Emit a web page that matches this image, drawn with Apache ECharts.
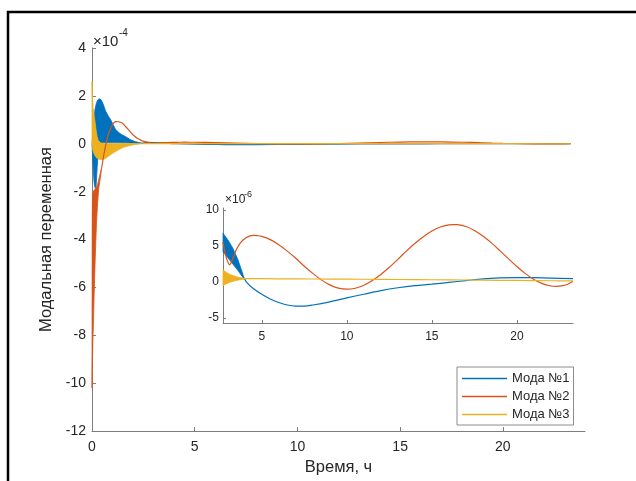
<!DOCTYPE html>
<html>
<head>
<meta charset="utf-8">
<script src="https://cdn.jsdelivr.net/npm/echarts@6/dist/echarts.min.js"></script>
<style>
  html, body { margin: 0; padding: 0; background: #fff; }
  #chart { width: 636px; height: 481px; }
</style>
</head>
<body>
<div id="chart"></div>
<script>
// Modal variables of the three modes over time (hours).
const seriesNames = ['Мода №1', 'Мода №2', 'Мода №3'];
const colors = ['#0072BD', '#D95319', '#EDB120'];

// Tick values: main axes in units of 1e-4, inset in units of 1e-6
const mainTicksX = [0, 5, 10, 15, 20];
const mainTicksY = [-12, -10, -8, -6, -4, -2, 0, 2, 4];
const insetTicksX = [5, 10, 15, 20];
const insetTicksY = [-5, 0, 5, 10];

// ---- Start-up transient (units of 1e-4): envelopes of the fast oscillation ----
const mode1BandT  = [0, 0.05, 0.1, 0.15, 0.2, 0.25, 0.3, 0.37, 0.45, 0.55, 0.66, 0.8, 0.9, 1.0, 1.14, 1.3, 1.45, 1.63, 1.85, 2.1, 2.4];
const mode1BandHi = [0, 0.5, 1.1, 1.45, 1.65, 1.78, 1.85, 1.88, 1.83, 1.65, 1.37, 1.15, 1.02, 0.85, 0.61, 0.47, 0.38, 0.3, 0.18, 0.09, 0.03];
const mode1BandLo = [0, -0.9, -1.6, -1.85, -1.75, -1.0, -0.4, 0, 0.03, 0.04, 0.05, 0.05, 0.05, 0.05, 0.05, 0.05, 0.04, 0.04, 0.03, 0.02, 0.02];
const mode1EarlyT = [2.4];
const mode1EarlyV = [0.02];

const mode2BandT  = [0, 0.01, 0.02, 0.04, 0.07, 0.1, 0.14, 0.18, 0.22, 0.27, 0.33, 0.41, 0.48];
const mode2BandHi = [-10.2, -3.2, -2.4, -2.1, -2.0, -1.95, -1.9, -1.85, -1.8, -1.7, -1.5, -1.2, -0.95];
const mode2BandLo = [-10.2, -9.5, -9.0, -8.3, -7.5, -6.4, -5.2, -4.2, -3.3, -2.5, -1.85, -1.4, -0.95];
const mode2EarlyT = [0.48, 0.57, 0.65, 0.75, 0.82, 0.95, 1.05, 1.15, 1.3, 1.47, 1.7, 1.96, 2.2, 2.44];
const mode2EarlyV = [-0.95, -0.49, -0.12, 0.25, 0.47, 0.72, 0.87, 0.93, 0.92, 0.87, 0.66, 0.4, 0.23, 0.12];

const mode3BandT  = [0, 0.02, 0.05, 0.1, 0.15, 0.2, 0.25, 0.3, 0.4, 0.5, 0.65, 0.8, 1.0, 1.25, 1.5, 1.8, 2.1, 2.4];
const mode3BandHi = [2.6, 2.0, 1.5, 1.2, 0.9, 0.55, 0.3, 0.15, 0.05, 0.02, 0.01, 0.01, 0.01, 0.01, 0.01, 0.01, 0.01, 0.01];
const mode3BandLo = [0, -0.15, -0.3, -0.42, -0.5, -0.56, -0.6, -0.63, -0.66, -0.66, -0.62, -0.52, -0.4, -0.27, -0.16, -0.08, -0.03, 0];
const mode3EarlyT = [2.4];
const mode3EarlyV = [0];

// ---- Slow motion after the transient (units of 1e-6) ----
const mode1TailBandT  = [2.72, 3.0, 3.3, 3.6, 3.9];
const mode1TailBandHi = [6.8, 5.9, 4.7, 3.1, 1.0];
const mode1TailBandLo = [4.2, 3.4, 2.5, 1.6, 0.6];
const mode1TailT = [2.72, 3.0, 3.3, 3.6, 3.9, 4.1, 4.5, 5.0, 5.5, 6.0, 6.5, 7.0, 7.5, 8.0, 9.0, 10.0, 11.0, 12.0, 13.0, 14.0, 15.0, 16.0, 17.0, 18.0, 19.0, 20.0, 21.0, 22.0, 23.3];
const mode1TailV = [5.5, 4.65, 3.6, 2.35, 0.8, 0.0, -0.9, -1.7, -2.35, -2.85, -3.2, -3.35, -3.35, -3.2, -2.75, -2.2, -1.7, -1.2, -0.8, -0.5, -0.3, -0.05, 0.2, 0.45, 0.58, 0.62, 0.6, 0.55, 0.47];

const mode2TailT = [2.72, 2.85, 3.0, 3.1, 3.2, 3.35, 3.5, 3.7, 3.9, 4.1, 4.3, 4.5, 4.75, 5.0, 5.5, 6.0, 6.5, 7.0, 7.5, 8.0, 8.5, 9.0, 9.5, 10.0, 10.5, 11.0, 11.5, 12.0, 12.5, 13.0, 13.5, 14.0, 14.5, 15.0, 15.5, 16.0, 16.3, 16.5, 17.0, 17.5, 18.0, 18.5, 19.0, 19.5, 20.0, 20.5, 21.0, 21.5, 22.0, 22.3, 22.7, 23.0, 23.3];
const mode2TailV = [5.6, 4.0, 2.8, 2.4, 2.7, 3.6, 4.5, 5.3, 5.85, 6.2, 6.42, 6.5, 6.45, 6.35, 5.9, 5.2, 4.3, 3.3, 2.2, 1.2, 0.3, -0.4, -0.85, -1.0, -0.86, -0.45, 0.2, 1.05, 2.05, 3.15, 4.3, 5.35, 6.3, 7.1, 7.65, 7.95, 8.0, 7.98, 7.72, 7.18, 6.4, 5.45, 4.37, 3.25, 2.16, 1.17, 0.36, -0.23, -0.55, -0.6, -0.5, -0.3, 0.1];

const mode3TailBandT  = [2.72, 2.9, 3.1, 3.3, 3.5, 3.7, 3.9, 4.1];
const mode3TailBandHi = [1.7, 1.35, 1.1, 0.9, 0.75, 0.62, 0.52, 0.47];
const mode3TailBandLo = [-0.5, -0.25, -0.05, 0.1, 0.22, 0.32, 0.4, 0.47];
const mode3TailT = [2.72, 3.5, 4.1, 6, 8, 10, 12, 14, 16, 18, 20, 22, 23.3];
const mode3TailV = [0.6, 0.48, 0.47, 0.45, 0.42, 0.4, 0.37, 0.33, 0.3, 0.26, 0.22, 0.18, 0.15];

// 1e-6 expressed in the 1e-4 units of the main axes
const TAIL_TO_MAIN = 0.01;

const FONT = '"Liberation Sans", Arial, Helvetica, sans-serif';
const AXIS_COLOR = '#7d7d7d';
const TEXT_COLOR = '#262626';

function pairs(t, v, k) {
  return t.map((x, i) => [x, v[i] * (k || 1)]);
}

// Filled envelope between an upper and a lower bound, drawn in data coordinates
function band(name, color, T, hi, lo, axisIdx) {
  return {
    type: 'custom',
    name: name,
    xAxisIndex: axisIdx,
    yAxisIndex: axisIdx,
    silent: true,
    animation: false,
    itemStyle: { color: color },
    data: [[T[0], hi[0]]],
    renderItem: function (params, api) {
      const pts = [];
      for (let i = 0; i < T.length; i++) pts.push(api.coord([T[i], hi[i]]));
      for (let i = T.length - 1; i >= 0; i--) pts.push(api.coord([T[i], lo[i]]));
      return {
        type: 'polygon',
        shape: { points: pts },
        style: { fill: color, stroke: color, lineWidth: 0.8 }
      };
    }
  };
}

function line(name, color, data, axisIdx, smooth) {
  return {
    type: 'line',
    name: name,
    xAxisIndex: axisIdx,
    yAxisIndex: axisIdx,
    data: data,
    symbol: 'none',
    showSymbol: false,
    smooth: smooth || false,
    animation: false,
    silent: true,
    itemStyle: { color: color },
    lineStyle: { color: color, width: 1.2 }
  };
}

function valueAxis(idx, min, max, ticks, opts) {
  return Object.assign({
    type: 'value',
    gridIndex: idx,
    min: min,
    max: max,
    axisLine: { show: true, onZero: false, lineStyle: { color: AXIS_COLOR, width: 1 } },
    axisTick: { show: true, inside: true, length: 4, customValues: ticks, lineStyle: { color: AXIS_COLOR } },
    axisLabel: { customValues: ticks, color: TEXT_COLOR, fontFamily: FONT, fontSize: 14 },
    splitLine: { show: false }
  }, opts || {});
}

const mainSeries = [
  band(seriesNames[0], colors[0], mode1BandT, mode1BandHi, mode1BandLo, 0),
  line(seriesNames[0], colors[0], pairs(mode1EarlyT, mode1EarlyV).concat(pairs(mode1TailT, mode1TailV, TAIL_TO_MAIN)), 0),
  band(seriesNames[1], colors[1], mode2BandT, mode2BandHi, mode2BandLo, 0),
  line(seriesNames[1], colors[1], pairs(mode2EarlyT, mode2EarlyV).concat(pairs(mode2TailT, mode2TailV, TAIL_TO_MAIN)), 0),
  band(seriesNames[2], colors[2], mode3BandT, mode3BandHi, mode3BandLo, 0),
  line(seriesNames[2], colors[2], pairs(mode3EarlyT, mode3EarlyV).concat(pairs(mode3TailT, mode3TailV, TAIL_TO_MAIN)), 0)
];

const insetSeries = [
  band(seriesNames[0], colors[0], mode1TailBandT, mode1TailBandHi, mode1TailBandLo, 1),
  line(seriesNames[0], colors[0], pairs(mode1TailT, mode1TailV), 1, 0.3),
  line(seriesNames[1], colors[1], pairs(mode2TailT, mode2TailV), 1, 0.3),
  band(seriesNames[2], colors[2], mode3TailBandT, mode3TailBandHi, mode3TailBandLo, 1),
  line(seriesNames[2], colors[2], pairs(mode3TailT, mode3TailV), 1, 0.3)
];

const chart = echarts.init(document.getElementById('chart'), null, { renderer: 'canvas' });
chart.setOption({
  backgroundColor: '#fff',
  animation: false,
  textStyle: { fontFamily: FONT },
  grid: [
    { left: 92, top: 48, width: 493, height: 387 },
    { left: 223, top: 208, width: 350, height: 115 }
  ],
  xAxis: [
    valueAxis(0, 0, 24, mainTicksX, {
      name: 'Время, ч', nameLocation: 'middle', nameGap: 25,
      nameTextStyle: { fontSize: 16.5, color: TEXT_COLOR, fontFamily: FONT },
      axisLabel: { customValues: mainTicksX, color: TEXT_COLOR, fontFamily: FONT, fontSize: 14, margin: 9 }
    }),
    valueAxis(1, 2.72, 23.3, insetTicksX, {
      axisTick: { show: true, inside: true, length: 3, customValues: insetTicksX, lineStyle: { color: AXIS_COLOR } },
      axisLabel: { customValues: insetTicksX, color: TEXT_COLOR, fontFamily: FONT, fontSize: 12, margin: 8 }
    })
  ],
  yAxis: [
    valueAxis(0, -12, 4, mainTicksY, {
      name: 'Модальная переменная', nameLocation: 'middle', nameGap: 34,
      nameTextStyle: { fontSize: 16.5, color: TEXT_COLOR, fontFamily: FONT },
      axisLabel: { customValues: mainTicksY, color: TEXT_COLOR, fontFamily: FONT, fontSize: 14, margin: 6 }
    }),
    valueAxis(1, -5.7, 10.3, insetTicksY, {
      axisTick: { show: true, inside: true, length: 3, customValues: insetTicksY, lineStyle: { color: AXIS_COLOR } },
      axisLabel: { customValues: insetTicksY, color: TEXT_COLOR, fontFamily: FONT, fontSize: 12, margin: 4 }
    })
  ],
  legend: {
    data: seriesNames,
    orient: 'vertical',
    left: 457,
    top: 367,
    icon: 'rect',
    itemWidth: 45,
    itemHeight: 1.3,
    itemGap: 5,
    padding: [5, 4, 4, 5],
    borderColor: '#8c8c8c',
    borderWidth: 1,
    backgroundColor: '#fff',
    selectedMode: false,
    textStyle: { fontSize: 13, color: TEXT_COLOR, fontFamily: FONT }
  },
  graphic: [
    {
      type: 'rect', silent: true, z: 100,
      shape: { x: 8, y: 12, width: 700, height: 600 },
      style: { fill: 'none', stroke: '#000', lineWidth: 2.5 }
    },
    { type: 'text', left: 93, top: 34, silent: true,
      style: { text: '×10', fontSize: 15, fontFamily: FONT, fill: TEXT_COLOR } },
    { type: 'text', left: 119, top: 28, silent: true,
      style: { text: '-4', fontSize: 10, fontFamily: FONT, fill: TEXT_COLOR } },
    { type: 'text', left: 225, top: 194, silent: true,
      style: { text: '×10', fontSize: 12, fontFamily: FONT, fill: TEXT_COLOR } },
    { type: 'text', left: 244, top: 190, silent: true,
      style: { text: '-6', fontSize: 9, fontFamily: FONT, fill: TEXT_COLOR } }
  ],
  series: mainSeries.concat(insetSeries)
});
</script>
</body>
</html>
